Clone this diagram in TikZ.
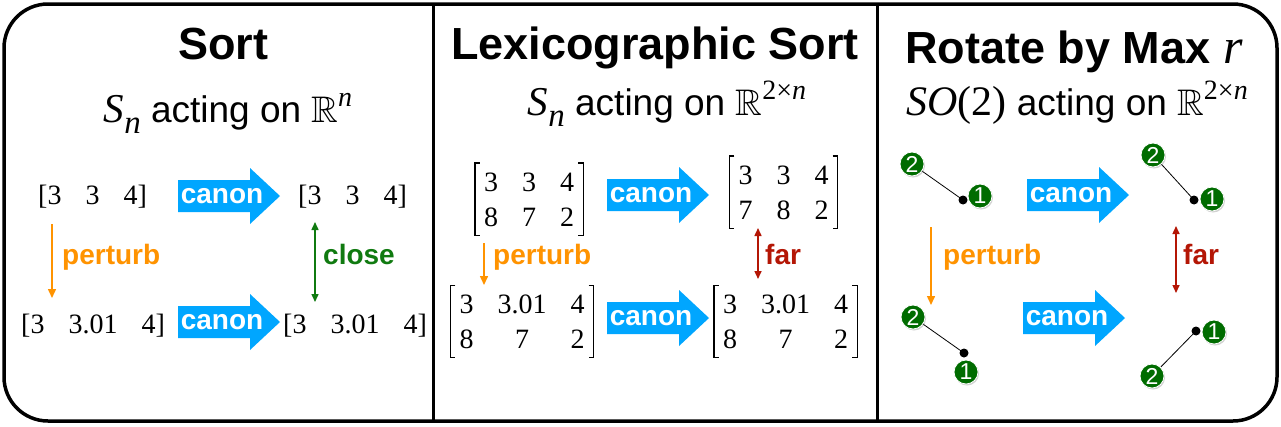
\documentclass[tikz,border=0pt]{standalone}
\usepackage{amssymb}
\usepackage{fontspec}
\setmainfont{Liberation Sans}
\newfontfamily\tms{Liberation Serif}
\usetikzlibrary{arrows.meta,matrix,shadows}
\newcommand\fsz[1]{\fontsize{#1}{#1}\selectfont}
\newcommand\Sn{{\tms\itshape\fsz{41}S}\raisebox{-11pt}{\tms\itshape\fsz{33}n}}
\newcommand\Rsup[1]{{\fsz{37}$\mathbb{R}$}\raisebox{16pt}{\tms\fsz{28}#1}}
\newcommand\gap{\hspace{24pt}}
\definecolor{canonc}{RGB}{0,166,255}
\definecolor{orng}{RGB}{255,147,0}
\definecolor{grn}{RGB}{16,122,16}
\definecolor{redd}{RGB}{180,22,5}
\definecolor{nodeg}{RGB}{0,108,0}
\newcommand\canon[3]{%
  \fill[canonc] (#2,#3-16) -- ++(72,0) -- ++(0,-12) -- ++(30,28) -- ++(-30,28) -- ++(0,-12) -- ++(-72,0) -- cycle;
  \node[canontxt] (#1) at (#2+44,#3) {canon};}
\begin{document}
\begin{tikzpicture}[x=1pt,y=-1pt,
  title/.style={anchor=base,inner sep=0pt,font=\bfseries\fsz{45}},
  subt/.style={anchor=base,inner sep=0pt,font=\fsz{37}},
  vec/.style={anchor=base west,inner sep=0pt,font=\tms\fsz{28}},
  canontxt/.style={inner sep=0pt,text=white,font=\bfseries\fsz{28}},
  lbl/.style={anchor=base west,inner sep=0pt,font=\bfseries\fsz{28}},
  pert/.style={draw=orng,line width=1.5pt,-{Triangle[length=9pt,width=8pt]}},
  closea/.style={draw=grn,line width=1.5pt,{Triangle[length=8pt,width=7pt]}-{Triangle[length=8pt,width=7pt]}},
  fara/.style={draw=redd,line width=1.5pt,{Triangle[length=8pt,width=7pt]}-{Triangle[length=8pt,width=7pt]}},
  mat/.style={matrix of nodes,inner sep=9pt,column sep=24pt,row sep=16pt,
    nodes={font=\tms\fsz{28},anchor=base,text height=19pt,text depth=0pt,inner sep=0pt}},
  brk/.style={line width=1.4pt},
  gnode/.style={circle,fill=nodeg,draw=white,line width=0.8pt,minimum size=24pt,inner sep=0pt,
    text=white,font=\fsz{23},drop shadow={opacity=0.35,shadow xshift=1pt,shadow yshift=-1.5pt}},
  gdot/.style={circle,fill=black,minimum size=9pt,inner sep=0pt},
  gline/.style={draw=black,line width=0.8pt}
]
\useasboundingbox (0,0) rectangle (1281,426);
\fill[white] (0,0) rectangle (1281,426);
% frame
\draw[line width=3.5pt,rounded corners=44pt] (4,4) rectangle (1277,421);
\draw[line width=3pt] (433,4) -- (433,421);
\draw[line width=3pt] (877,4) -- (877,421);

% ---------- Panel 1 ----------
\node[title] (t1) at (223,59) {Sort};
\node[subt] (s1) at (228,122) {\Sn\ acting on \Rsup{\itshape n}};
\node[vec] (v1) at (38,204) {[3\gap3\gap4]};
\node[vec] (v2) at (298,204) {[3\gap3\gap4]};
\node[vec] (v3) at (21,333) {[3\gap3.01\gap4]};
\node[vec] (v4) at (283,333) {[3\gap3.01\gap4]};
\canon{c1}{178}{196}
\canon{c2}{178}{322}
\coordinate (p1a) at (52,224); \coordinate (p1b) at (52,298);
\draw[pert] (p1a) -- (p1b);
\node[lbl,text=orng] (l1) at (62,264) {perturb};
\coordinate (q1a) at (315,222); \coordinate (q1b) at (315,302);
\draw[closea] (q1a) -- (q1b);
\node[lbl,text=grn] (l2) at (323,264) {close};

% ---------- Panel 2 ----------
\node[title] (t2) at (655,59) {Lexicographic Sort};
\node[subt] (s2) at (667,115) {\Sn\ acting on \Rsup{2×{\itshape n}}};
\matrix (m1) [mat] at (529,199) {3 & 3 & 4\\ 8 & 7 & 2\\};
\matrix (m2) [mat] at (783.5,192) {3 & 3 & 4\\ 7 & 8 & 2\\};
\matrix (m3) [mat] at (522,321.5) {3 & 3.01 & 4\\ 8 & 7 & 2\\};
\matrix (m4) [mat] at (785.5,321.5) {3 & 3.01 & 4\\ 8 & 7 & 2\\};
\foreach \m in {m1,m2,m3,m4}{
  \draw[brk] ([xshift=5pt]\m.north west) -| (\m.south west) -- ++(5,0);
  \draw[brk] ([xshift=-5pt]\m.north east) -| (\m.south east) -- ++(-5,0);
}
\canon{c3}{607}{195}
\canon{c4}{607}{318}
\coordinate (p2a) at (484,243); \coordinate (p2b) at (484,285);
\draw[pert] (p2a) -- (p2b);
\node[lbl,text=orng] (l3) at (493,264) {perturb};
\coordinate (f2a) at (758,228); \coordinate (f2b) at (758,279);
\draw[fara] (f2a) -- (f2b);
\node[lbl,text=redd] (l4) at (765,264) {far};

% ---------- Panel 3 ----------
\node[title] (t3) at (1074,63) {Rotate by Max {\tms\itshape\fsz{50}\mdseries r}};
\node[subt] (s3) at (1077,115) {{\tms\fsz{42}\itshape SO\upshape(2)}\ acting on \Rsup{2×{\itshape n}}};
\canon{c5}{1027}{195}
\canon{c6}{1023}{318}
\coordinate (p3a) at (931,227); \coordinate (p3b) at (931,305);
\draw[pert] (p3a) -- (p3b);
\node[lbl,text=orng] (l5) at (943,264) {perturb};
\coordinate (f3a) at (1176,226); \coordinate (f3b) at (1176,293);
\draw[fara] (f3a) -- (f3b);
\node[lbl,text=redd] (l6) at (1183,264) {far};

% graphs
\coordinate (da) at (963,200);
\draw[gline] (912,164) coordinate (g2apos) -- (da);
\node[gnode] (g1a) at (980,196) {1};
\node[gdot] (dota) at (da) {};
\node[gnode] (g2a) at (g2apos) {2};

\coordinate (db) at (1194,200);
\draw[gline] (1153,155) coordinate (g2bpos) -- (db);
\node[gnode] (g1b) at (1212,199) {1};
\node[gdot] (dotb) at (db) {};
\node[gnode] (g2b) at (g2bpos) {2};

\coordinate (dc) at (964,353);
\draw[gline] (913,317) coordinate (g2cpos) -- (dc);
\node[gnode] (g1c) at (966,372) {1};
\node[gdot] (dotc) at (dc) {};
\node[gnode] (g2c) at (g2cpos) {2};

\coordinate (dd) at (1196,331);
\draw[gline] (1152,376) coordinate (g2dpos) -- (dd);
\node[gnode] (g1d) at (1214,332) {1};
\node[gdot] (dotd) at (dd) {};
\node[gnode] (g2d) at (g2dpos) {2};
\end{tikzpicture}
\end{document}
